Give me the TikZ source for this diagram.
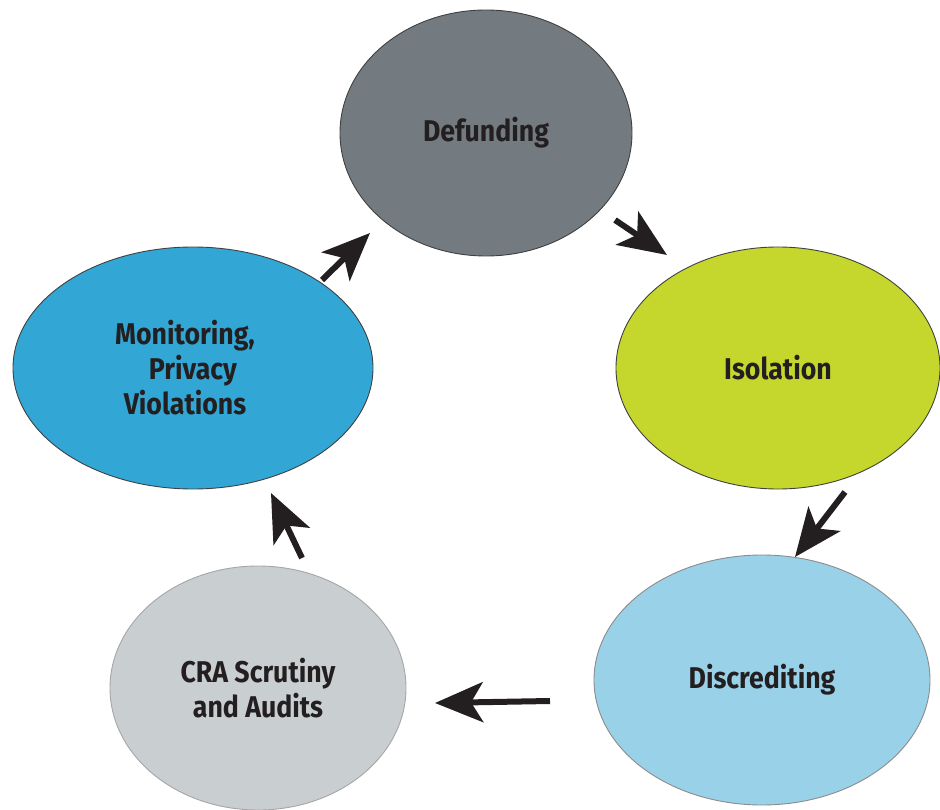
\documentclass[tikz,border=0pt]{standalone}
\usepackage{fontspec}
\setmainfont{Fira Sans}[FakeStretch=0.89]
\usetikzlibrary{shapes.geometric,arrows.meta}
\definecolor{cdef}{HTML}{737B80}
\definecolor{ciso}{HTML}{C5D72D}
\definecolor{cmon}{HTML}{32A7D6}
\definecolor{ccra}{HTML}{C9CED1}
\definecolor{cdis}{HTML}{99D1E8}
\definecolor{ctxt}{HTML}{231F20}
\tikzset{
  blob/.style={ellipse, draw=#1, line width=0.9pt, inner sep=0pt, align=center,
    text=ctxt, font=\bfseries\fontsize{30}{35}\selectfont},
  flow/.style={line width=6pt, draw=ctxt, line cap=butt,
    -{Stealth[length=48pt,width=40pt,inset=12pt]}}
}
\begin{document}
\begin{tikzpicture}[x=1pt,y=-1pt]
\useasboundingbox (0,0) rectangle (940,810);
\clip (0,0) rectangle (940,810);
\node[blob=black!75, fill=cdef, minimum width=292pt, minimum height=246pt] (def) at (486,133) {Defunding};
\node[blob=black!75, fill=ciso, minimum width=324pt, minimum height=242pt] (iso) at (778,368) {Isolation};
\node[blob=black!75, fill=cmon, minimum width=360pt, minimum height=242pt] (mon) at (193,368) {Monitoring,\hspace*{16pt}\\Privacy\hspace*{16pt}\\Violations\hspace*{16pt}};
\node[blob=black!35, fill=ccra, minimum width=296pt, minimum height=244pt] (cra) at (258,688) {CRA Scrutiny\\and Audits};
\node[blob=black!45, fill=cdis, minimum width=336pt, minimum height=250pt] (dis) at (762,680) {Discrediting};
\coordinate (a1s) at (615,220); \coordinate (a1e) at (667,255);
\coordinate (a2s) at (845,492); \coordinate (a2e) at (795,557);
\coordinate (a3s) at (550,701); \coordinate (a3e) at (435,703);
\coordinate (a4s) at (302,558); \coordinate (a4e) at (271,493);
\coordinate (a5s) at (322,280); \coordinate (a5e) at (370,233);
\draw[flow] (a1s) -- (a1e);
\draw[flow] (a2s) -- (a2e);
\draw[flow] (a3s) -- (a3e);
\draw[flow] (a4s) -- (a4e);
\draw[flow] (a5s) -- (a5e);
\end{tikzpicture}
\end{document}
